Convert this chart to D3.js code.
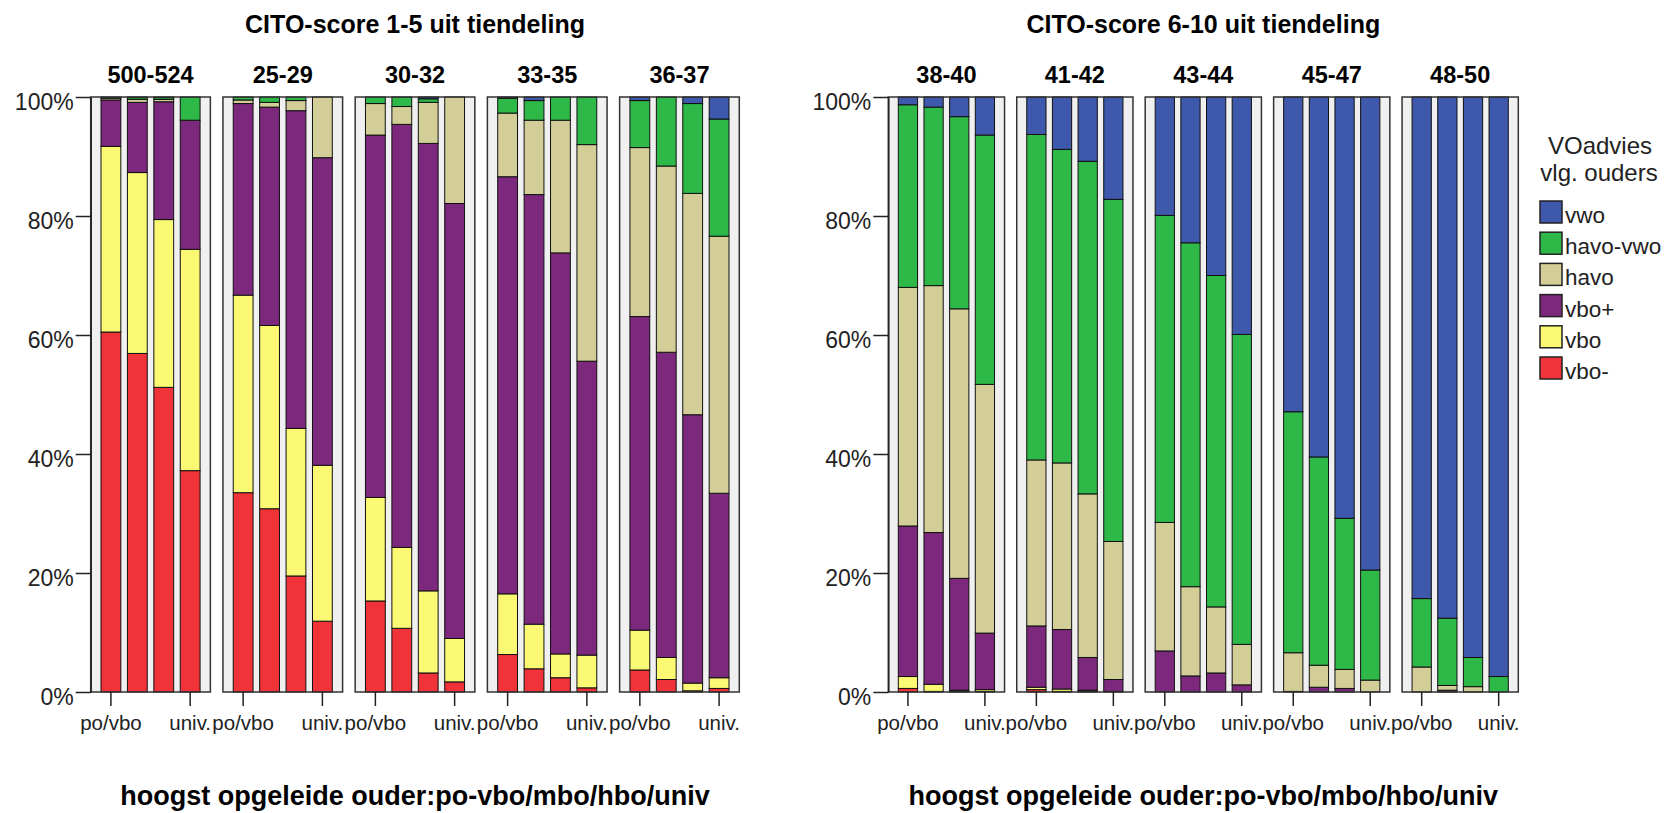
<!DOCTYPE html>
<meta charset="utf-8">
<style>
body { margin: 0; background: #fff; }
text { font-family: "Liberation Sans", Arial, sans-serif; }
.tick text { fill: #222; }
.axis--y .tick text { font-size: 23px; }
.axis--x .tick text { font-size: 20.5px; }
.tick line { stroke: #222; stroke-width: 1.5px; }
.axis--y .domain { stroke: #222; stroke-width: 1.5px; }
.title { font-size: 25px; font-weight: bold; }
.panel-label { font-size: 23.5px; font-weight: bold; }
.x-title { font-size: 27px; font-weight: bold; }
.legend text { font-size: 22.5px; fill: #222; }
.legend .legend-title { font-size: 24px; }
</style>
<svg width="1665" height="813"></svg>
<script src="https://d3js.org/d3.v7.min.js"></script>
<script>

// CITO-score groups (panels), parent education (bars), VO advice (stacks)
var scoreGroups = ["500-524", "25-29", "30-32", "33-35", "36-37",
                   "38-40", "41-42", "43-44", "45-47", "48-50"];
var parentEdu = ["po/vbo", "mbo", "hbo", "univ."];
var adviesLevels = ["vbo-", "vbo", "vbo+", "havo", "havo-vwo", "vwo"];
var adviesColors = ["#ef3338", "#fbf873", "#7c287d", "#d3ce97", "#2eb848", "#3e58ac"];
var yTicks = [0, 0.2, 0.4, 0.6, 0.8, 1];

// percent per score group, one value per parent-education bar
var vboMin = [
  [60.5, 56.9, 51.2, 37.2], [33.5, 30.8, 19.5, 11.9], [15.3, 10.7, 3.2, 1.7],
  [6.3, 3.9, 2.4, 0.7], [3.7, 2.1, 0.2, 0.6], [0.6, 0.1, 0.1, 0.1],
  [0.4, 0.1, 0.1, 0], [0, 0, 0, 0], [0, 0, 0, 0], [0, 0, 0, 0]];
var vbo = [
  [31.2, 30.4, 28.2, 37.2], [33.2, 30.8, 24.8, 26.2], [17.4, 13.6, 13.8, 7.3],
  [10.2, 7.5, 4.0, 5.5], [6.7, 3.7, 1.3, 1.8], [2.0, 1.2, 0.2, 0.3],
  [0.4, 0.4, 0.2, 0.1], [0, 0, 0, 0], [0, 0, 0, 0], [0, 0, 0, 0]];
var vboPlus = [
  [7.8, 11.8, 19.8, 21.7], [32.2, 36.7, 53.4, 51.7], [60.9, 71.1, 75.2, 73.1],
  [70.1, 72.2, 67.4, 49.4], [52.7, 51.3, 45.1, 31.0], [25.3, 25.5, 18.8, 9.5],
  [10.3, 10.0, 5.5, 2.0], [6.9, 2.7, 3.2, 1.2], [0.1, 0.8, 0.6, 0], [0, 0.3, 0, 0]];
var havo = [
  [0.3, 0.5, 0.4, 0], [0.6, 0.8, 1.7, 10.2], [5.3, 3.0, 6.9, 17.9],
  [10.7, 12.5, 22.3, 36.4], [28.4, 31.3, 37.2, 43.2], [40.1, 41.5, 45.3, 41.8],
  [27.9, 28.0, 27.5, 23.2], [21.6, 15.0, 11.1, 6.8], [6.5, 3.7, 3.2, 2.0], [4.2, 0.8, 0.9, 0]];
var havoVwo = [
  [0.2, 0.3, 0.3, 3.9], [0.5, 0.9, 0.6, 0], [1.1, 1.6, 0.6, 0],
  [2.5, 3.3, 3.9, 8.0], [7.9, 11.6, 15.1, 19.7], [30.7, 30.0, 32.3, 41.9],
  [54.7, 52.7, 55.9, 57.5], [51.6, 57.8, 55.7, 52.1], [40.5, 35.0, 25.4, 18.5], [11.5, 11.3, 4.9, 2.6]];
var vwo = [
  [0, 0.1, 0.1, 0], [0, 0, 0, 0], [0, 0, 0.3, 0],
  [0.2, 0.6, 0, 0], [0.6, 0, 1.1, 3.7], [1.3, 1.7, 3.3, 6.4],
  [6.3, 8.8, 10.8, 17.2], [19.9, 24.5, 30.0, 39.9], [52.9, 60.5, 70.8, 79.5], [84.3, 87.6, 94.2, 97.4]];

var seriesValues = [vboMin, vbo, vboPlus, havo, havoVwo, vwo];

var rows = [];
scoreGroups.forEach(function(g, gi) {
  parentEdu.forEach(function(e, ei) {
    var r = {group: g, edu: e};
    adviesLevels.forEach(function(k, ki) { r[k] = seriesValues[ki][gi][ei]; });
    rows.push(r);
  });
});

var stacked = d3.stack().keys(adviesLevels).offset(d3.stackOffsetExpand)(rows);
var color = d3.scaleOrdinal().domain(adviesLevels).range(adviesColors);

var svg = d3.select("svg");
var y = d3.scaleLinear().domain([0, 1]).range([692, 97]);

var halves = [
  {title: "CITO-score 1-5 uit tiendeling", groups: scoreGroups.slice(0, 5), x0: 90.7, x1: 739.3},
  {title: "CITO-score 6-10 uit tiendeling", groups: scoreGroups.slice(5), x0: 888.3, x1: 1518.3}
];

halves.forEach(function(h) {
  var g = svg.append("g");
  var xPanel = d3.scaleBand().domain(h.groups).range([h.x0, h.x1]).paddingInner(0.095);
  var xBar = d3.scaleBand().domain(parentEdu).range([0, xPanel.bandwidth()])
      .paddingInner(0.25).paddingOuter(0.39);

  var panel = g.selectAll(".panel")
    .data(h.groups)
    .enter().append("g")
      .attr("class", "panel")
      .attr("transform", function(d) { return "translate(" + xPanel(d) + ",0)"; });

  panel.append("rect")
      .attr("x", 0)
      .attr("y", y(1))
      .attr("width", xPanel.bandwidth())
      .attr("height", y(0) - y(1))
      .attr("fill", "#f0f0f0");

  panel.each(function(grp) {
    var p = d3.select(this);
    stacked.forEach(function(layer) {
      p.selectAll(null)
        .data(layer.filter(function(d) { return d.data.group === grp && d[1] - d[0] > 0; }))
        .enter().append("rect")
          .attr("x", function(d) { return xBar(d.data.edu); })
          .attr("y", function(d) { return y(d[1]); })
          .attr("width", xBar.bandwidth())
          .attr("height", function(d) { return y(d[0]) - y(d[1]); })
          .attr("fill", color(layer.key))
          .attr("stroke", "#111")
          .attr("stroke-width", 1);
    });
  });

  panel.append("rect")
      .attr("x", 0)
      .attr("y", y(1))
      .attr("width", xPanel.bandwidth())
      .attr("height", y(0) - y(1))
      .attr("fill", "none")
      .attr("stroke", "#333")
      .attr("stroke-width", 1.5);

  panel.append("g")
      .attr("class", "axis axis--x")
      .attr("transform", "translate(0," + y(0) + ")")
      .call(d3.axisBottom(xBar).tickValues([parentEdu[0], parentEdu[parentEdu.length - 1]])
            .tickSize(14).tickSizeOuter(0))
      .call(function(a) { a.select(".domain").remove(); })
      .selectAll("text")
        .attr("y", 38)
        .attr("dy", 0);

  panel.append("text")
      .attr("class", "panel-label")
      .attr("x", xPanel.bandwidth() / 2)
      .attr("y", 83)
      .attr("text-anchor", "middle")
      .text(function(d) { return d; });

  g.append("g")
      .attr("class", "axis axis--y")
      .attr("transform", "translate(" + h.x0 + ",0)")
      .call(d3.axisLeft(y).tickValues(yTicks).tickFormat(d3.format(".0%"))
            .tickSize(15).tickSizeOuter(0).tickPadding(2))
      .selectAll("text")
        .attr("dy", "0.55em");

  var cx = (h.x0 + h.x1) / 2;
  g.append("text")
      .attr("class", "title")
      .attr("x", cx)
      .attr("y", 33)
      .attr("text-anchor", "middle")
      .text(h.title);

  g.append("text")
      .attr("class", "x-title")
      .attr("x", cx)
      .attr("y", 805)
      .attr("text-anchor", "middle")
      .text("hoogst opgeleide ouder:po-vbo/mbo/hbo/univ");
});

// legend
var legend = svg.append("g").attr("class", "legend");
legend.append("text").attr("class", "legend-title")
    .attr("x", 1600).attr("y", 154).attr("text-anchor", "middle").text("VOadvies");
legend.append("text").attr("class", "legend-title")
    .attr("x", 1599).attr("y", 181).attr("text-anchor", "middle").text("vlg. ouders");

var item = legend.selectAll(".item")
  .data(adviesLevels.slice().reverse())
  .enter().append("g")
    .attr("class", "item")
    .attr("transform", function(d, i) { return "translate(1540," + (201 + i * 31.2) + ")"; });

item.append("rect")
    .attr("width", 22)
    .attr("height", 22)
    .attr("fill", function(d) { return color(d); })
    .attr("stroke", "#222")
    .attr("stroke-width", 1.5);

item.append("text")
    .attr("x", 25)
    .attr("y", 22)
    .text(function(d) { return d; });

</script>
